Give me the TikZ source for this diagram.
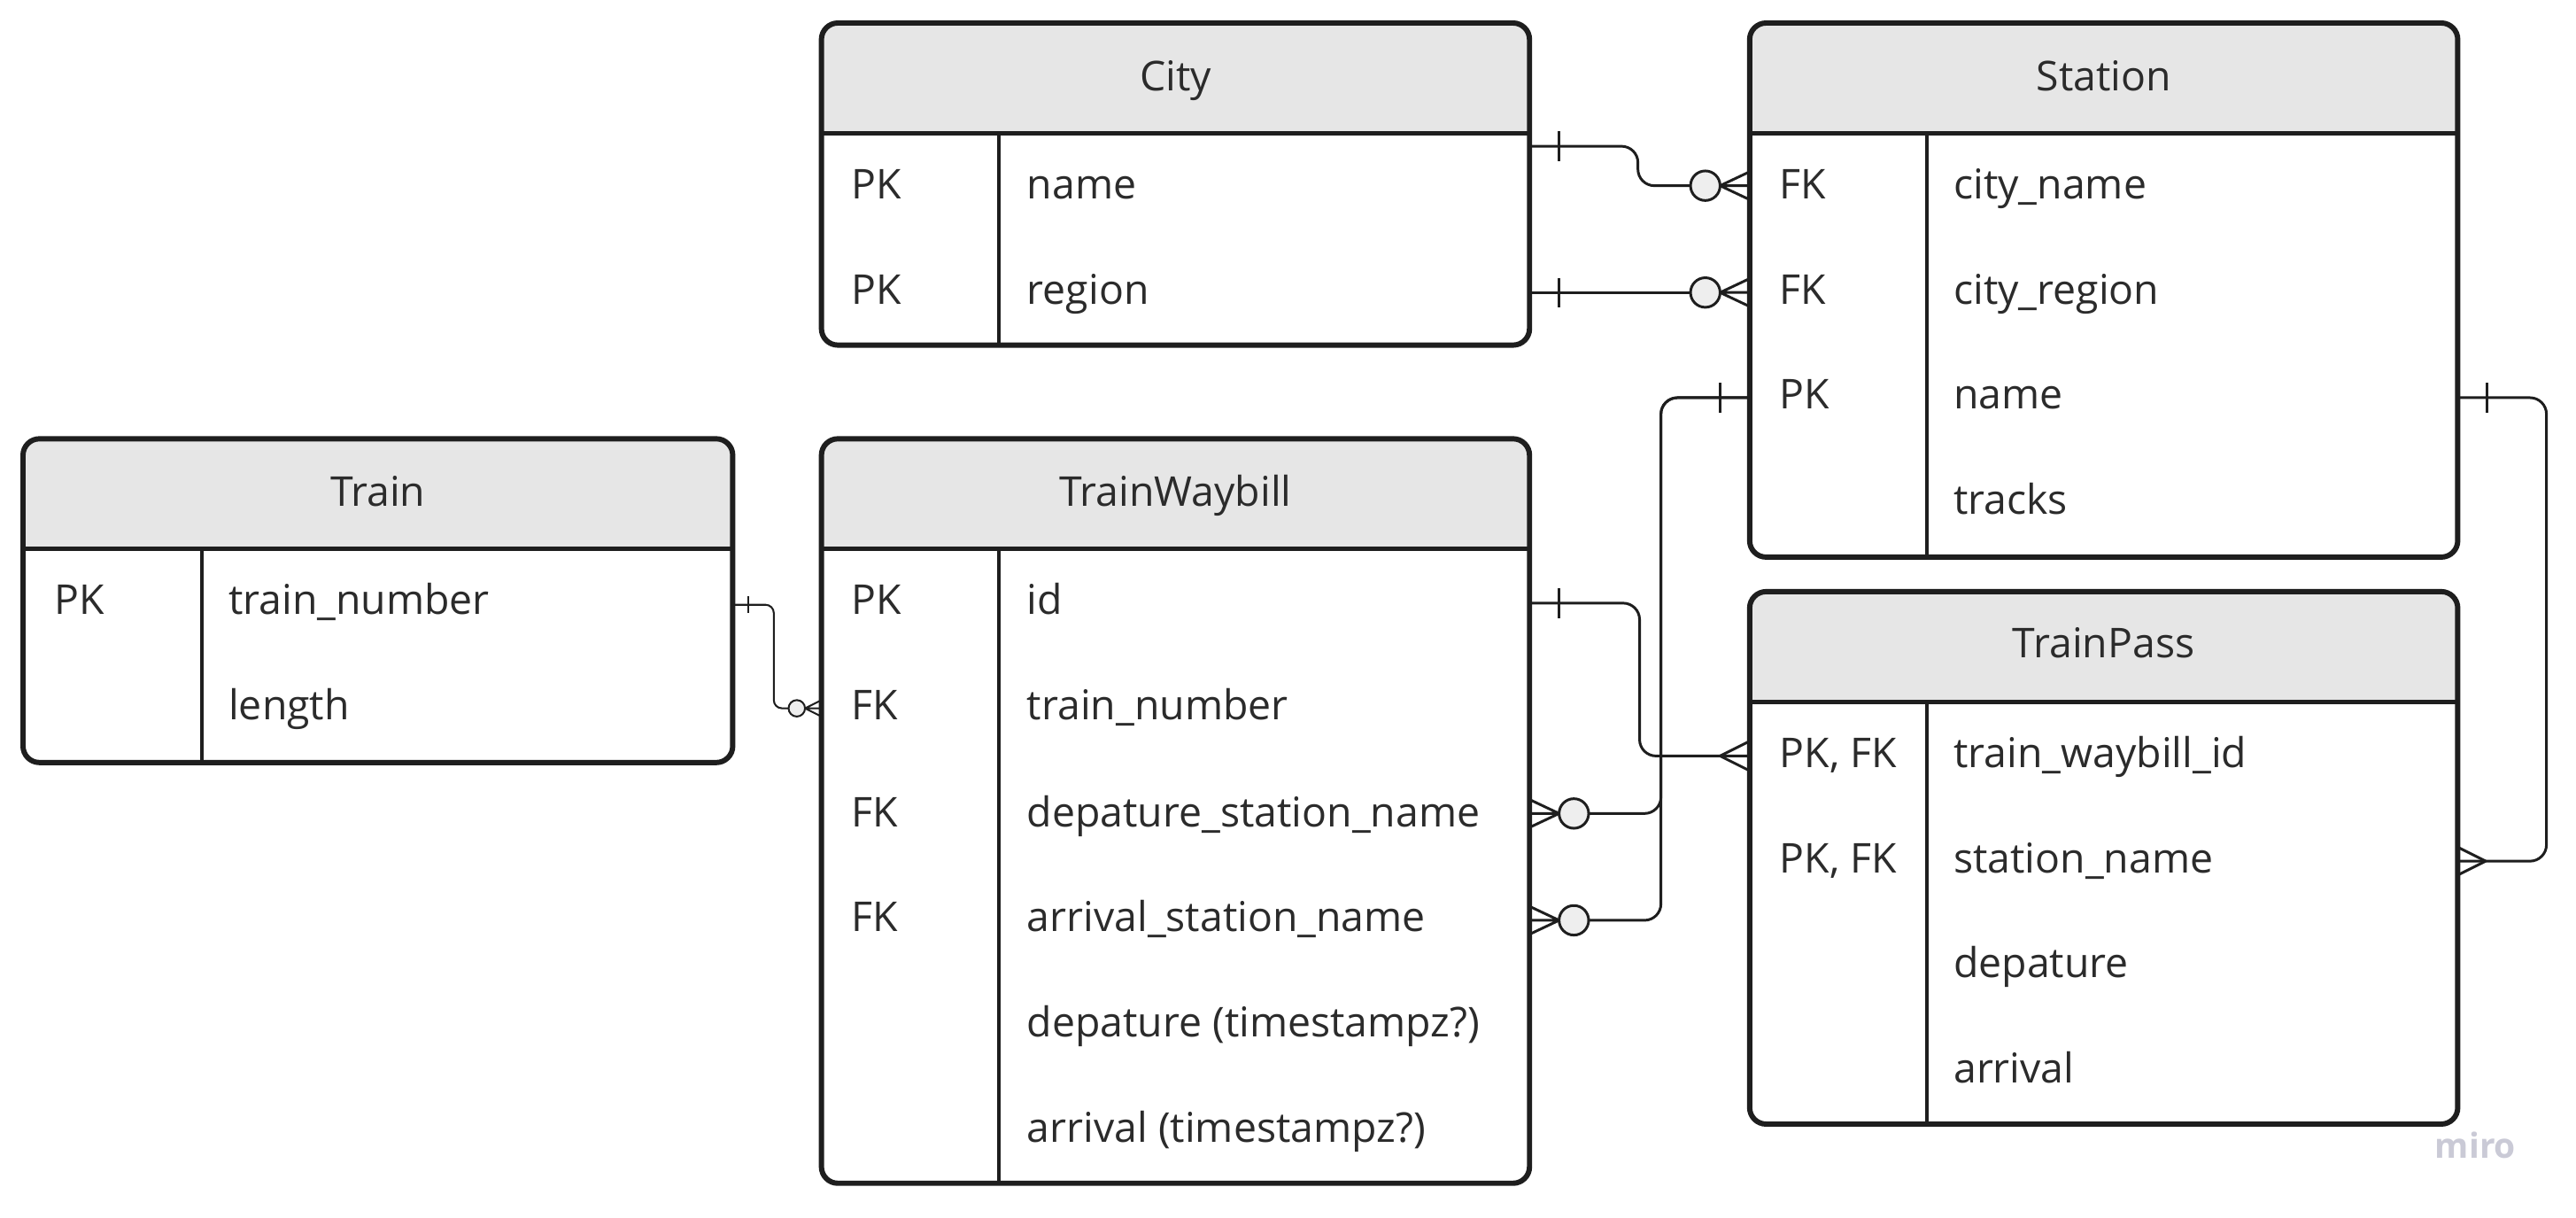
\documentclass[tikz,border=0pt]{standalone}
\usepackage{fontspec}
\setmainfont{Open Sans}
\definecolor{hdr}{HTML}{E6E6E6}
\definecolor{ink}{HTML}{1E1E1E}
\definecolor{txt}{HTML}{2B2B2B}
\definecolor{circ}{HTML}{EEEEEE}
\definecolor{mirogray}{HTML}{CACAD6}
\begin{document}
\begin{tikzpicture}[x=1pt,y=-1pt,
  tbox/.style={draw=ink, line width=3.2pt, rounded corners=10pt, inner sep=0pt},
  hline/.style={draw=ink, line width=2.8pt},
  vline/.style={draw=ink, line width=2.2pt},
  lbl/.style={anchor=base west, inner sep=0pt, text=txt, font=\fontsize{25}{29}\selectfont},
  ttl/.style={anchor=base, inner sep=0pt, text=txt, font=\fontsize{25}{29}\selectfont},
  conn/.style={draw=ink, line width=1.6pt, rounded corners=10pt},
  connsm/.style={draw=ink, line width=1.1pt, rounded corners=5pt},
  crow/.style={draw=ink, line width=1.6pt},
  crowsm/.style={draw=ink, line width=1.1pt},
  ring/.style={draw=ink, fill=circ, line width=1.6pt},
  ringsm/.style={draw=ink, fill=circ, line width=1.1pt},
]
\useasboundingbox[fill=white] (0,0) rectangle (1568,741);

% ---------- City ----------
\begin{scope}\clip (500,14) rectangle (931,81);
\fill[hdr, rounded corners=10pt] (500,14) rectangle (931,120);\end{scope}
\node[tbox, minimum width=431pt, minimum height=196pt] (city) at (715.5,112) {};
\draw[hline] (500,81) -- (931,81);
\draw[vline] (608,81) -- (608,210);
\node[ttl] (cityT) at (715.5,55) {City};
\node[lbl] (cityK1) at (518,121) {PK};
\node[lbl] (cityF1) at (625,121) {name};
\node[lbl] (cityK2) at (518,185) {PK};
\node[lbl] (cityF2) at (625,185) {region};

% ---------- Station ----------
\begin{scope}\clip (1065,14) rectangle (1496,81);
\fill[hdr, rounded corners=10pt] (1065,14) rectangle (1496,120);\end{scope}
\node[tbox, minimum width=431pt, minimum height=325pt] (station) at (1280.5,176.5) {};
\draw[hline] (1065,81) -- (1496,81);
\draw[vline] (1173,81) -- (1173,339);
\node[ttl] (stT) at (1280.5,55) {Station};
\node[lbl] (stK1) at (1083,121) {FK};
\node[lbl] (stF1) at (1189,121) {city\_name};
\node[lbl] (stK2) at (1083,185) {FK};
\node[lbl] (stF2) at (1189,185) {city\_region};
\node[lbl] (stK3) at (1083,249) {PK};
\node[lbl] (stF3) at (1189,249) {name};
\node[lbl] (stF4) at (1189,313) {tracks};

% ---------- Train ----------
\begin{scope}\clip (14,267) rectangle (446,334);
\fill[hdr, rounded corners=10pt] (14,267) rectangle (446,380);\end{scope}
\node[tbox, minimum width=432pt, minimum height=197pt] (train) at (230,365.5) {};
\draw[hline] (14,334) -- (446,334);
\draw[vline] (123,334) -- (123,464);
\node[ttl] (trT) at (230,308) {Train};
\node[lbl] (trK1) at (33,374) {PK};
\node[lbl] (trF1) at (139,374) {train\_number};
\node[lbl] (trF2) at (139,438) {length};

% ---------- TrainWaybill ----------
\begin{scope}\clip (500,267) rectangle (931,334);
\fill[hdr, rounded corners=10pt] (500,267) rectangle (931,380);\end{scope}
\node[tbox, minimum width=431pt, minimum height=453pt] (tw) at (715.5,493.5) {};
\draw[hline] (500,334) -- (931,334);
\draw[vline] (608,334) -- (608,720);
\node[ttl] (twT) at (715.5,308) {TrainWaybill};
\node[lbl] (twK1) at (518,374) {PK};
\node[lbl] (twF1) at (625,374) {id};
\node[lbl] (twK2) at (518,438) {FK};
\node[lbl] (twF2) at (625,438) {train\_number};
\node[lbl] (twK3) at (518,503) {FK};
\node[lbl] (twF3) at (625,503) {depature\_station\_name};
\node[lbl] (twK4) at (518,567) {FK};
\node[lbl] (twF4) at (625,567) {arrival\_station\_name};
\node[lbl] (twF5) at (625,631) {depature (timestampz?)};
\node[lbl] (twF6) at (625,695) {arrival (timestampz?)};

% ---------- TrainPass ----------
\begin{scope}\clip (1065,360) rectangle (1496,427);
\fill[hdr, rounded corners=10pt] (1065,360) rectangle (1496,470);\end{scope}
\node[tbox, minimum width=431pt, minimum height=324pt] (tp) at (1280.5,522) {};
\draw[hline] (1065,427) -- (1496,427);
\draw[vline] (1173,427) -- (1173,684);
\node[ttl] (tpT) at (1280.5,400) {TrainPass};
\node[lbl] (tpK1) at (1083,467) {PK, FK};
\node[lbl] (tpF1) at (1189,467) {train\_waybill\_id};
\node[lbl] (tpK2) at (1083,531) {PK, FK};
\node[lbl] (tpF2) at (1189,531) {station\_name};
\node[lbl] (tpF3) at (1189,595) {depature};
\node[lbl] (tpF4) at (1189,659) {arrival};

% ---------- miro mark ----------
\node[anchor=base west, inner sep=0pt, text=mirogray, font=\fontsize{21}{21}\selectfont\bfseries] (logo) at (1482,705) {miro};

% ---------- Connectors ----------
% City.name -> Station.city_name
\coordinate (a1) at (931,89);
\coordinate (a2) at (1065,113);
\draw[conn] (a1) -- (997,89) -- (997,113) -- (1029,113);
\draw[crow] (949,80) -- (949,98);
\draw[crow] (1047,113) -- (1065,104.5) (1047,113) -- (a2) (1047,113) -- (1065,121.5);
\draw[ring] (1038,113) circle (9);

% City.region -> Station.city_region
\coordinate (b1) at (931,178);
\coordinate (b2) at (1065,178);
\draw[conn] (b1) -- (1029,178);
\draw[crow] (949,169) -- (949,187);
\draw[crow] (1047,178) -- (1065,169.5) (1047,178) -- (b2) (1047,178) -- (1065,186.5);
\draw[ring] (1038,178) circle (9);

% Train.train_number -> TrainWaybill.train_number
\coordinate (c1) at (446,368);
\coordinate (c2) at (500,431);
\draw[connsm] (c1) -- (471,368) -- (471,431) -- (480,431);
\draw[crowsm] (455.5,363) -- (455.5,373);
\draw[crowsm] (490,431) -- (500,426) (490,431) -- (c2) (490,431) -- (500,436);
\draw[ringsm] (485,431) circle (5);

% Station.name -> TrainWaybill.depature / arrival
\coordinate (d0) at (1065,242);
\coordinate (d1) at (931,495);
\coordinate (d2) at (931,560);
\draw[conn] (d0) -- (1011,242) -- (1011,495) -- (967,495);
\draw[conn] (d0) -- (1011,242) -- (1011,560) -- (967,560);
\draw[crow] (1047,233) -- (1047,251);
\draw[crow] (949,495) -- (931,486.5) (949,495) -- (d1) (949,495) -- (931,503.5);
\draw[crow] (949,560) -- (931,551.5) (949,560) -- (d2) (949,560) -- (931,568.5);
\draw[ring] (958,495) circle (9);
\draw[ring] (958,560) circle (9);

% TrainWaybill.id -> TrainPass.train_waybill_id
\coordinate (e1) at (931,367);
\coordinate (e2) at (1065,460);
\draw[conn] (e1) -- (998,367) -- (998,460) -- (e2);
\draw[crow] (949,358) -- (949,376);
\draw[crow] (1047,460) -- (1065,451) (1047,460) -- (1065,469);

% Station.name -> TrainPass.station_name
\coordinate (f1) at (1496,242);
\coordinate (f2) at (1496,524);
\draw[conn] (f1) -- (1550,242) -- (1550,524) -- (f2);
\draw[crow] (1514,233) -- (1514,251);
\draw[crow] (1513,524) -- (1496,515.5) (1513,524) -- (1496,532.5);
\end{tikzpicture}
\end{document}
